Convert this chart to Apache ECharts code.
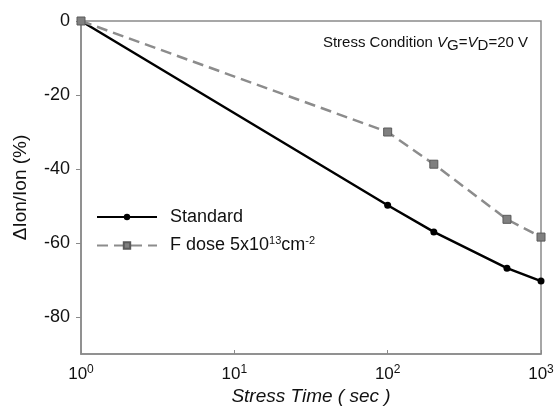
<!DOCTYPE html>
<html>
<head>
<meta charset="utf-8">
<script src="https://cdn.jsdelivr.net/npm/echarts@6/dist/echarts.min.js"></script>
<style>
html,body{margin:0;padding:0;background:#fff;}
#c{width:559px;height:407px;}
</style>
</head>
<body>
<div id="c"></div>
<script>
// Data
const stressTime = [1, 100, 200, 600, 1000];
const standardVals = [0, -49.8, -57.0, -66.8, -70.3];
const fdoseVals = [0, -30.0, -38.7, -53.6, -58.4];
const seriesNames = ['Standard', 'F dose'];
const legendLabels = ['Standard', 'F dose 5x10{sup|13}cm{sup|-2}'];
const yTicks = [0, -20, -40, -60, -80];

const font = 'Liberation Sans, Arial, sans-serif';
const chart = echarts.init(document.getElementById('c'), null, {renderer: 'canvas'});

function pairs(xs, ys) { return xs.map((x, i) => [x, ys[i]]); }

chart.setOption({
  animation: false,
  backgroundColor: '#fff',
  textStyle: {fontFamily: font},
  grid: {left: 81, right: 18, top: 21, bottom: 53, show: true, borderColor: '#8a8a8a', borderWidth: 1.5,
    containLabel: false, outerBoundsMode: 'none'},
  legend: {
    orient: 'vertical', left: 91, top: 203, itemWidth: 60, itemHeight: 8, itemGap: 9,
    data: seriesNames,
    formatter: function (n) { return legendLabels[seriesNames.indexOf(n)]; },
    textStyle: {fontSize: 18, color: '#111', fontFamily: font, padding: [0, 0, 0, 8],
      rich: {sup: {fontSize: 11, verticalAlign: 'top', padding: [0, 0, 10, 0], color: '#111'}}}
  },
  xAxis: {
    type: 'log', logBase: 10, min: 1, max: 1000,
    name: 'Stress Time ( sec )', nameLocation: 'middle', nameGap: 32,
    nameTextStyle: {fontSize: 19, fontStyle: 'italic', color: '#111', fontFamily: font},
    axisLine: {show: true, onZero: false, lineStyle: {color: '#8a8a8a', width: 1.5}},
    axisTick: {show: true, inside: true, length: 4, lineStyle: {color: '#8a8a8a'}},
    minorTick: {show: false},
    splitLine: {show: false},
    axisLabel: {
      margin: 10, color: '#111', fontSize: 17, fontFamily: font,
      formatter: function (v) { return '{b|10}{s|' + Math.round(Math.log10(v)) + '}'; },
      rich: {b: {fontSize: 17, color: '#111'}, s: {fontSize: 12, color: '#111', verticalAlign: 'top', padding: [0, 0, 8, 0]}}
    }
  },
  yAxis: {
    type: 'value', min: -90, max: 0,
    name: 'ΔIon/Ion (%)', nameLocation: 'middle', nameGap: 51,
    nameTextStyle: {fontSize: 19, color: '#111', fontFamily: font},
    axisLine: {show: true, onZero: false, lineStyle: {color: '#8a8a8a', width: 1.5}},
    axisTick: {show: true, inside: false, length: 5, customValues: yTicks, lineStyle: {color: '#8a8a8a'}},
    axisLabel: {customValues: yTicks, margin: 11, color: '#111', fontSize: 18, fontFamily: font},
    splitLine: {show: false}
  },
  graphic: [{
    type: 'text', right: 31, top: 35,
    style: {
      text: 'Stress Condition {i|V}{sub|G}={i|V}{sub|D}=20 V',
      fontSize: 15, fill: '#111', fontFamily: font,
      rich: {
        i: {fontStyle: 'italic', fontSize: 15, fill: '#111', color: '#111'},
        sub: {fontSize: 15, color: '#111', verticalAlign: 'bottom', padding: [7, 0, 0, 0]}
      }
    }
  }],
  series: [
    {
      name: seriesNames[0], type: 'line', data: pairs(stressTime, standardVals),
      symbol: 'circle', symbolSize: 7, showAllSymbol: true,
      lineStyle: {color: '#000', width: 2.5},
      itemStyle: {color: '#000'}, z: 2
    },
    {
      name: seriesNames[1], type: 'line', data: pairs(stressTime, fdoseVals),
      symbol: 'rect', symbolSize: 8, showAllSymbol: true,
      lineStyle: {color: '#8c8c8c', width: 2.5, type: [11, 6]},
      itemStyle: {color: '#808080', borderColor: '#5a5a5a', borderWidth: 1}, z: 3
    }
  ]
});
</script>
</body>
</html>
